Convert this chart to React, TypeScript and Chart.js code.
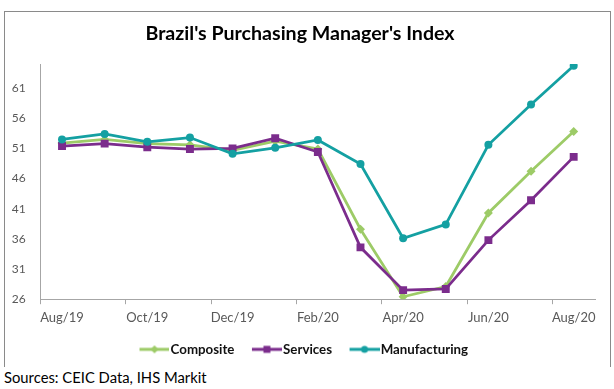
import React, { useEffect, useRef } from "react";
import { Chart, registerables } from "chart.js";

Chart.register(...registerables);

const categories = [
  "Aug/19", "Sep/19", "Oct/19", "Nov/19", "Dec/19", "Jan/20", "Feb/20",
  "Mar/20", "Apr/20", "May/20", "Jun/20", "Jul/20", "Aug/20",
];
const composite = [51.9, 52.5, 51.8, 51.6, 50.7, 52.2, 50.9, 37.6, 26.4, 28.1, 40.3, 47.2, 53.8];
const services = [51.4, 51.8, 51.2, 50.9, 51.0, 52.7, 50.4, 34.6, 27.5, 27.7, 35.8, 42.4, 49.6];
const manufacturing = [52.5, 53.4, 52.1, 52.8, 50.1, 51.1, 52.4, 48.4, 36.1, 38.4, 51.6, 58.3, 64.7];
const yTickValues = [26, 31, 36, 41, 46, 51, 56, 61];

const seriesNames = ["Composite", "Services", "Manufacturing"];
const seriesColors = ["#9DCB67", "#7B2C8C", "#14A0A2"];
const seriesMarkers = ["diamond", "square", "circle"];

function legendIcon(color: string, marker: string): HTMLCanvasElement {
  const c = document.createElement("canvas");
  c.width = 43;
  c.height = 12;
  const g = c.getContext("2d")!;
  g.strokeStyle = color;
  g.lineWidth = 3;
  g.beginPath();
  g.moveTo(13, 6);
  g.lineTo(43, 6);
  g.stroke();
  g.fillStyle = color;
  const cx = 28;
  const cy = 6;
  g.beginPath();
  if (marker === "circle") {
    g.arc(cx, cy, 3.5, 0, Math.PI * 2);
  } else if (marker === "square") {
    g.rect(cx - 3.5, cy - 3.5, 7, 7);
  } else {
    g.moveTo(cx, cy - 4);
    g.lineTo(cx + 4, cy);
    g.lineTo(cx, cy + 4);
    g.lineTo(cx - 4, cy);
    g.closePath();
  }
  g.fill();
  return c;
}

export default function App() {
  const ref = useRef<HTMLCanvasElement | null>(null);

  useEffect(() => {
    if (!ref.current) return;
    const icons = seriesColors.map((c, i) => legendIcon(c, seriesMarkers[i]));
    const axisColor = "#a6a6a6";
    const chart = new Chart(ref.current, {
      type: "line",
      data: {
        labels: categories,
        datasets: [
          {
            label: seriesNames[0],
            data: composite,
            borderColor: seriesColors[0],
            backgroundColor: seriesColors[0],
            borderWidth: 2.75,
            pointStyle: "rectRot",
            pointRadius: 4.5,
            pointBorderWidth: 0,
            tension: 0,
            order: 3,
          },
          {
            label: seriesNames[1],
            data: services,
            borderColor: seriesColors[1],
            backgroundColor: seriesColors[1],
            borderWidth: 2.75,
            pointStyle: "rect",
            pointRadius: 5.6,
            pointBorderWidth: 0,
            tension: 0,
            order: 2,
          },
          {
            label: seriesNames[2],
            data: manufacturing,
            borderColor: seriesColors[2],
            backgroundColor: seriesColors[2],
            borderWidth: 2.75,
            pointStyle: "circle",
            pointRadius: 4,
            pointBorderWidth: 0,
            tension: 0,
            order: 1,
          },
        ],
      },
      options: {
        animation: false,
        responsive: false,
        maintainAspectRatio: false,
        layout: { padding: { left: 0, right: 15, top: 0, bottom: 0 } },
        font: { family: "Lato" } as any,
        plugins: {
          title: {
            display: true,
            text: "Brazil's Purchasing Manager's Index",
            color: "#000",
            font: { family: "Lato", size: 19.6, weight: "bold" },
            padding: { top: 9.5, bottom: 19 },
          },
          legend: {
            position: "bottom",
            labels: {
              usePointStyle: true,
              pointStyleWidth: 32,
              padding: 10,
              color: "#111",
              font: { family: "Lato", size: 13.3, weight: "bold" },
              generateLabels: () =>
                seriesNames.map((name, i) => ({
                  text: name,
                  pointStyle: icons[i] as any,
                  fillStyle: seriesColors[i],
                  strokeStyle: seriesColors[i],
                  lineWidth: 0,
                  hidden: false,
                  datasetIndex: i,
                  fontColor: "#111",
                })),
            },
          },
          tooltip: { enabled: false },
        },
        scales: {
          x: {
            type: "category",
            offset: true,
            grid: {
              offset: true,
              drawOnChartArea: false,
              drawTicks: true,
              tickLength: 5,
              tickColor: (ctx: any) =>
                ctx.type === "tick" && ctx.index % 2 === 0 ? axisColor : "rgba(0,0,0,0)",
            },
            border: { color: axisColor, width: 1 },
            ticks: {
              autoSkip: false,
              maxRotation: 0,
              padding: 6,
              color: "#595959",
              font: { family: "Lato", size: 13 },
              callback: (_v: any, i: number) => (i % 2 === 0 ? categories[i] : ""),
            },
            afterFit: (s: any) => {
              s.height = 33.5;
            },
          },
          y: {
            min: 26,
            max: 65,
            grid: { drawOnChartArea: false, drawTicks: false },
            border: { color: axisColor, width: 1 },
            ticks: {
              padding: 15,
              color: "#595959",
              font: { family: "Lato", size: 12 },
            },
            afterBuildTicks: (s: any) => {
              s.ticks = yTickValues.map((v) => ({ value: v }));
            },
            afterFit: (s: any) => {
              s.width = 35.7;
            },
          },
        },
      },
    });
    return () => chart.destroy();
  }, []);

  return (
    <div style={{ position: "absolute", left: 0, top: 0, width: 614, height: 389, background: "#fff" }}>
      <div
        style={{
          position: "absolute",
          left: 4,
          top: 11,
          width: 605,
          height: 355,
          borderTop: "1px solid #8a8a8a",
          borderLeft: "1px solid #8a8a8a",
          borderRight: "1px solid #8a8a8a",
        }}
      >
        <canvas ref={ref} width={605} height={354} style={{ display: "block", width: 605, height: 354 }} />
      </div>
      <div
        style={{
          position: "absolute",
          left: 4,
          top: 367,
          fontFamily: "Lato",
          fontSize: 14.8,
          lineHeight: "20px",
          color: "#000",
          whiteSpace: "nowrap",
        }}
      >
        Sources: CEIC Data, IHS Markit
      </div>
    </div>
  );
}
